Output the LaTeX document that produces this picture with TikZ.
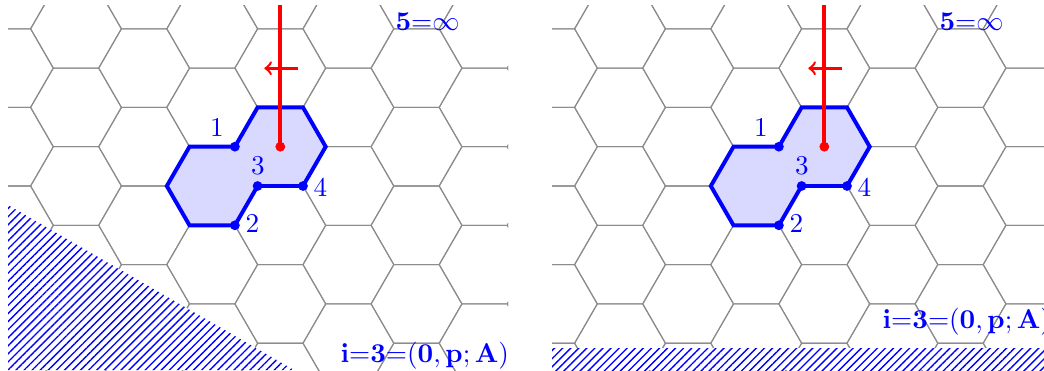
\documentclass[tikz,border=0pt]{standalone}
\usetikzlibrary{patterns.meta}
\begin{document}
\begin{tikzpicture}[x=0.368pt,y=-0.368pt,
  gridline/.style={draw=black!45,line width=0.4pt},
  region/.style={fill=blue!15,draw=blue,line width=1.45pt},
  ray/.style={draw=red,line width=1.35pt},
  pointer/.style={draw=red,line width=0.9pt,->},
  bdot/.style={circle,fill=blue,inner sep=0pt,minimum size=3.6pt},
  rdot/.style={circle,fill=red,inner sep=0pt,minimum size=3.6pt},
  lbl/.style={text=blue,inner sep=0pt},
  btxt/.style={text=blue,inner sep=0pt},
  hatch/.style={pattern={Lines[angle=45,distance=2.1pt,line width=0.5pt]},pattern color=blue}]
\useasboundingbox (0,0) rectangle (1044,370);
\foreach \p/\sh/\cr/\ty/\tx in {A/0/508/362/340,B/544/500/328.5/338}{
\begin{scope}[shift={(\sh,0)}]
 \begin{scope}
  \clip (8,5) rectangle (\cr,370);
  \foreach \k in {-5,...,4}{
   \foreach \n in {-3,...,4}{
    \pgfmathsetmacro\cx{280.3+68.1*\k}
    \pgfmathsetmacro\cy{146.7+39.3*mod(\k+10,2)+78.6*\n}
    \draw[gridline] (\cx,\cy) ++(-45.4,0) -- ++(22.7,-39.3) -- ++(45.4,0) -- ++(22.7,39.3) -- ++(-22.7,39.3) -- ++(-45.4,0) -- cycle;
   }
  }
  \ifnum\sh=0
   \fill[white] (8,205) -- (8,370) -- (294,370) -- cycle;
   \fill[hatch] (8,205) -- (8,370) -- (294,370) -- cycle;
  \else
   \fill[white] (8,348) rectangle (500,370);
   \fill[hatch] (8,348) rectangle (500,370);
  \fi
 \end{scope}
 \path[region] (234.9,146.7) -- (257.6,107.4) -- (303.0,107.4) -- (325.7,146.7)
   -- (303.0,186.0) -- (257.6,186.0) -- (234.9,225.3) -- (189.5,225.3)
   -- (166.8,186.0) -- (189.5,146.7) -- cycle;
 \node[rdot] (r\p) at (280.3,146.7) {};
 \coordinate (top\p) at (280.3,5);
 \draw[ray] (r\p.center) -- (top\p);
 \coordinate (ps\p) at (297.7,68.3);
 \coordinate (pe\p) at (264.3,68.3);
 \draw[pointer] (ps\p) -- (pe\p);
 \node[bdot] (d1\p) at (234.9,146.7) {};
 \node[bdot] (d2\p) at (234.9,225.3) {};
 \node[bdot] (d3\p) at (257.6,186.0) {};
 \node[bdot] (d4\p) at (303.0,186.0) {};
 \node[lbl] (l1\p) at (217,127) {1};
 \node[lbl] (l2\p) at (252.5,223.5) {2};
 \node[lbl] (l3\p) at (258,166) {3};
 \node[lbl] (l4\p) at (320.3,187) {4};
 \node[btxt,anchor=base west] (inf\p) at (395,30.5) {$\mathbf{5}{=}\infty$};
 \node[btxt,anchor=base west] (tri\p) at (\tx,\ty) {$\mathbf{i}{=}\mathbf{3}{=}(\mathbf{0},\mathbf{p};\mathbf{A})$};
\end{scope}
}
\end{tikzpicture}
\end{document}
